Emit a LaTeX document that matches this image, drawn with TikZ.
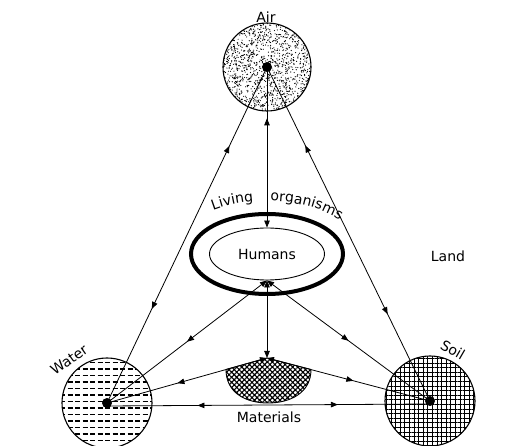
\documentclass[tikz,border=0pt]{standalone}
\usepackage{fontspec}
\setmainfont{DejaVu Sans}
\usetikzlibrary{arrows.meta,shapes.geometric,decorations.markings,decorations.text,patterns.meta}
\newcommand{\lblfont}{\fontsize{14}{17}\selectfont}
\tikzset{
  ftip/.tip={Triangle[length=7pt,width=5.5pt]},
  conn/.style={line width=0.8pt},
  fwd/.style={postaction={decorate,decoration={markings,mark=at position #1 with {\arrow{ftip}}}}},
  bwd/.style={postaction={decorate,decoration={markings,mark=at position #1 with {\arrowreversed{ftip}}}}},
  rim/.style={draw,line width=1.1pt},
  lbl/.style={font=\lblfont,inner sep=1pt},
  dotc/.style={fill=black}
}
\begin{document}
\begin{tikzpicture}[x=1pt,y=1pt]
\useasboundingbox (0,0) rectangle (507,-446);
% centres
\coordinate (ac) at (267,-67);
\coordinate (wc) at (107,-403);
\coordinate (sc) at (430,-401);
\coordinate (hc) at (267,-254);
\coordinate (mt) at (267,-358);
% Air: stipple
\begin{scope}
  \clip (ac) circle (44);
  \pgfmathsetseed{7}
  \foreach \i in {1,...,1500}{\fill ({222+90*rnd},{-22-90*rnd}) circle (0.6pt);}
\end{scope}
\node[circle,rim,minimum size=88pt,inner sep=0pt] (air) at (ac) {};
% Water: dashes
\begin{scope}
  \clip (wc) circle (45);
  \foreach \yy in {-447,-440.5,...,-355}{\draw[line width=1.4pt,dash pattern=on 5pt off 2.5pt] (60,\yy) -- (156,\yy);}
\end{scope}
\node[circle,rim,minimum size=90pt,inner sep=0pt] (water) at (wc) {};
% Soil: grid
\node[circle,rim,minimum size=90pt,inner sep=0pt,pattern={Hatch[angle=0,distance=4.6pt,line width=1pt]}] (soil) at (sc) {};
% Materials bowl
\path[draw,line width=0.9pt,pattern={Hatch[angle=45,distance=3.6pt,line width=1.1pt]}]
  (mt) -- (226,-369.5) .. controls (226,-393) and (246,-403) .. (268,-403)
  .. controls (290,-403) and (311,-393) .. (311,-369.5) -- cycle;
% Ellipses
\node[ellipse,draw,line width=4pt,minimum width=152pt,minimum height=80pt,inner sep=0pt] (liv) at (hc) {};
\node[ellipse,draw,line width=0.9pt,minimum width=115pt,minimum height=52pt,inner sep=0pt,lbl] (hum) at (hc) {Humans};
% connectors
\draw[conn,bwd=0.235,fwd=0.72] (ac) -- (wc);
\draw[conn,bwd=0.235,fwd=0.74] (ac) -- (sc);
\draw[conn,bwd=0.32,-{ftip}] (ac) -- (hum.north);
\draw[conn,bwd=0.5,-{ftip}] (wc) -- (hum.south);
\draw[conn,bwd=0.5,-{ftip}] (sc) -- (hum.south);
\draw[conn,{ftip}-{ftip}] (hum.south) -- (mt);
\draw[conn,bwd=0.44,-{ftip}] (wc) -- (mt);
\draw[conn,bwd=0.47,-{ftip}] (sc) -- (mt);
\draw[conn,bwd=0.28,fwd=0.715] ([yshift=-3pt]wc) -- ([yshift=-3pt]sc);
% dots
\fill[dotc] (ac) circle (5);
\fill[dotc] (wc) circle (5);
\fill[dotc] (sc) circle (5);
% labels
\node[lbl] (airl) at (266,-17) {Air};
\node[lbl,rotate=35] (waterl) at (69,-360) {Water};
\node[lbl,rotate=-30] (soill) at (453,-350) {Soil};
\node[lbl] (landl) at (448,-256) {Land};
\node[lbl] (matl) at (269,-417) {Materials};
\path[shift={(hc)},decorate,decoration={text along path,text={|\lblfont|Living}}]
  (124.6:95pt and 53pt) arc[start angle=124.6,end angle=70,x radius=95pt,y radius=53pt];
\path[shift={(hc)},decorate,decoration={text along path,text={|\lblfont|organisms}}]
  (88:95pt and 53pt) arc[start angle=88,end angle=0,x radius=95pt,y radius=53pt];
\end{tikzpicture}
\end{document}
